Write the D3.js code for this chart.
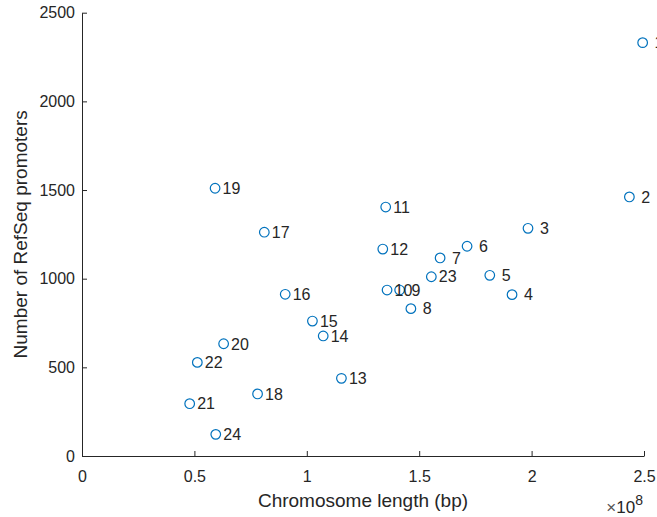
<!DOCTYPE html>
<html>
<head>
<script src="https://d3js.org/d3.v7.min.js"></script>
<style>
  body { margin: 0; background: #fff; }
  text { font-family: "Liberation Sans", Arial, sans-serif; fill: #262626; }
  circle { fill: none; stroke: #0072BD; stroke-width: 1.2; }
</style>
</head>
<body>
<svg width="657" height="517"></svg>
<script>
// chromosome numbers, lengths (bp) and promoter counts
var chromosomes = [1, 2, 3, 4, 5, 6, 7, 8, 9, 10, 11, 12, 13, 14, 15, 16, 17, 18, 19, 20, 21, 22, 23, 24];
var lengths = [249.4e6, 243.5e6, 198.4e6, 191.3e6, 181.4e6, 171.3e6, 159.3e6, 146.3e6, 141.3e6, 135.7e6,
               135.1e6, 133.8e6, 115.4e6, 107.3e6, 102.5e6, 90.4e6, 81.1e6, 78.1e6, 59.2e6, 63.0e6,
               47.9e6, 51.3e6, 155.4e6, 59.5e6];
var promoters = [2331, 1461, 1284, 910, 1019, 1183, 1117, 831, 936, 936,
                 1404, 1167, 438, 677, 761, 912, 1262, 350, 1510, 633,
                 295, 528, 1011, 122];
var xTicks = [0, 0.5e8, 1e8, 1.5e8, 2e8, 2.5e8];
var yTicks = [0, 500, 1000, 1500, 2000, 2500];

var svg = d3.select('svg');
var plotLeft = 82, plotRight = 644, plotTop = 12.7, plotBottom = 456;

var x = d3.scaleLinear().domain([0, 2.5e8]).range([plotLeft, plotRight]);
var y = d3.scaleLinear().domain([0, 2500]).range([plotBottom, plotTop]);

var xAxis = d3.axisBottom(x)
	.tickValues(xTicks)
	.tickSizeInner(-5)
	.tickSizeOuter(0)
	.tickPadding(15)
	.tickFormat(function(d) { return d / 1e8; });

var yAxis = d3.axisLeft(y)
	.tickValues(yTicks)
	.tickSizeInner(-5)
	.tickSizeOuter(0)
	.tickPadding(7)
	.tickFormat(d3.format('d'));

var gx = svg.append('g')
	.attr('transform', 'translate(0,' + plotBottom + ')')
	.call(xAxis);
var gy = svg.append('g')
	.attr('transform', 'translate(' + plotLeft + ',0)')
	.call(yAxis);

[gx, gy].forEach(function(g) {
	g.selectAll('path, line').attr('stroke', '#262626');
	g.selectAll('text')
		.style('font-family', '"Liberation Sans", Arial, sans-serif')
		.style('font-size', '16px')
		.attr('fill', '#262626');
});

svg.selectAll('circle')
	.data(chromosomes)
	.enter()
	.append('circle')
	.attr('r', 4.8)
	.attr('cx', function(d, i) { return x(lengths[i]); })
	.attr('cy', function(d, i) { return y(promoters[i]); });

// single digit labels carry a leading blank in the original
svg.selectAll('text.lab')
	.data(chromosomes)
	.enter()
	.append('text')
	.attr('class', 'lab')
	.attr('x', function(d, i) { return x(lengths[i]) + 7.5 + (d < 10 ? 4.4 : 0); })
	.attr('y', function(d, i) { return y(promoters[i]); })
	.attr('dy', '0.36em')
	.style('font-size', '16px')
	.text(function(d) { return d; });

// axis titles
svg.append('text')
	.attr('x', (plotLeft + plotRight) / 2)
	.attr('y', 507)
	.attr('text-anchor', 'middle')
	.style('font-size', '19px')
	.text('Chromosome length (bp)');

svg.append('text')
	.attr('transform', 'translate(27,' + ((plotTop + plotBottom) / 2) + ') rotate(-90)')
	.attr('text-anchor', 'middle')
	.style('font-size', '19px')
	.text('Number of RefSeq promoters');

var expo = svg.append('text')
	.attr('x', 643)
	.attr('y', 513)
	.attr('text-anchor', 'end')
	.style('font-size', '17px');
expo.append('tspan').style('fill', '#555').text('\u00d7');
expo.append('tspan').text('10');
expo.append('tspan').attr('dy', -8).style('font-size', '14px').text('8');
</script>
</body>
</html>
